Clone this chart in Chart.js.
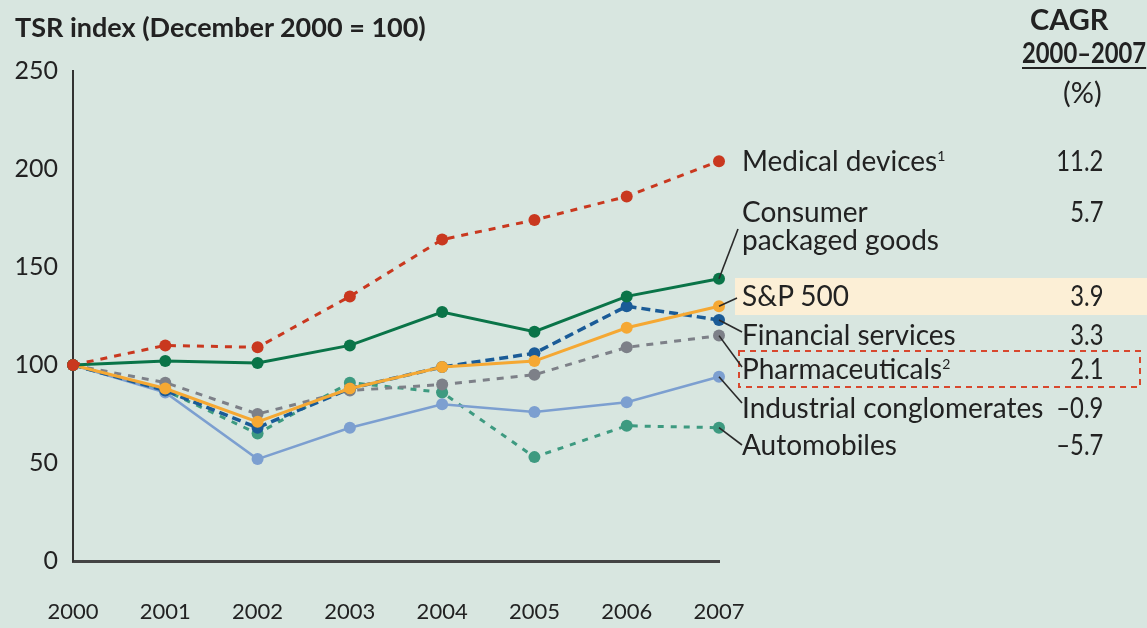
<!DOCTYPE html>
<html>
<head>
<meta charset="utf-8">
<title>TSR index</title>
<script src="https://cdn.jsdelivr.net/npm/chart.js@4.4.0/dist/chart.umd.min.js"></script>
<style>
    body { margin: 0; background: #d8e6e0; }
    #wrap { position: relative; width: 1147px; height: 628px; overflow: hidden;
            font-family: Lato, sans-serif; color: #222; }
    #chart { position: absolute; left: 0; top: 0; }
    .t { position: absolute; white-space: nowrap; font-size: 28px; line-height: 28px; }
    .b { font-weight: bold; }
    .v { position: absolute; right: 44px; white-space: nowrap; font-size: 29px; line-height: 28px;
         transform: scaleX(0.82); transform-origin: right center; }
    sup { font-size: 14px; vertical-align: 10px; line-height: 0; }
</style>
</head>
<body>
<div id="wrap">
    <canvas id="chart" width="1147" height="628"></canvas>
    <div class="t b" style="left:15px;top:13px;font-size:27px;">TSR index (December 2000 = 100)</div>
    <div class="t b" style="left:1030px;top:5px;font-size:29px;">CAGR</div>
    <div class="t b" style="left:1022px;top:38px;font-size:29px;text-decoration:underline;text-decoration-thickness:2px;text-underline-offset:4px;transform:scaleX(0.82);transform-origin:left center;">2000–2007</div>
    <div class="t" style="left:1063px;top:78px;font-size:29px;">(%)</div>
    <div id="labels"></div>
</div>
<script>
var years = ['2000', '2001', '2002', '2003', '2004', '2005', '2006', '2007'];
var yTicks = [0, 50, 100, 150, 200, 250];

var medical = [100, 110, 109, 135, 164, 174, 186, 204];
var consumer = [100, 102, 101, 110, 127, 117, 135, 144];
var sp500 = [100, 88, 71, 88, 99, 102, 119, 130];
var financial = [100, 87, 68, 88, 99, 106, 130, 123];
var pharma = [100, 91, 75, 87, 90, 95, 109, 115];
var industrial = [100, 86, 52, 68, 80, 76, 81, 94];
var autos = [100, 87, 65, 91, 86, 53, 69, 68];

var names = ['Medical devices<sup>1</sup>', 'Consumer<br>packaged goods', 'S&amp;P 500', 'Financial services',
    'Pharmaceuticals<sup>2</sup>', 'Industrial conglomerates', 'Automobiles'];
var cagr = ['11.2', '5.7', '3.9', '3.3', '2.1', '–0.9', '–5.7'];

// layout of the label column (top of each label, leader line end)
var labelTop = [146, 197, 281, 320, 354, 393, 430];
var leaderEnd = [null, [738, 229], [737, 298], [742, 332], [742, 367], [742, 403], [742, 445]];

var labelsDiv = document.getElementById('labels');
names.forEach(function(n, i) {
    var d = document.createElement('div');
    d.className = 't';
    d.style.left = '742px';
    d.style.top = labelTop[i] + 'px';
    d.innerHTML = n;
    labelsDiv.appendChild(d);
    var v = document.createElement('div');
    v.className = 'v';
    v.style.top = labelTop[i] + 'px';
    v.textContent = cagr[i];
    labelsDiv.appendChild(v);
});

function line(label, data, color, dash, width) {
    return {
        label: label,
        data: data,
        borderColor: color,
        backgroundColor: color,
        borderWidth: width || 3,
        borderDash: dash || [],
        pointRadius: 6,
        pointBorderWidth: 0,
        pointBackgroundColor: color,
        tension: 0
    };
}

var decor = {
    id: 'decor',
    beforeDatasetsDraw: function(chart) {
        var ctx = chart.ctx;
        ctx.save();
        ctx.fillStyle = '#fcefd6';
        ctx.fillRect(735, 278, 412, 37);
        ctx.restore();
    },
    afterDatasetsDraw: function(chart) {
        var ctx = chart.ctx;
        ctx.save();
        ctx.strokeStyle = '#d8482e';
        ctx.lineWidth = 2;
        ctx.setLineDash([6, 5]);
        ctx.strokeRect(739, 351, 401, 36);
        ctx.setLineDash([]);
        ctx.strokeStyle = '#2a2a2a';
        ctx.lineWidth = 1.6;
        leaderEnd.forEach(function(e, i) {
            if (!e) return;
            var pts = chart.getDatasetMeta(i).data;
            var p = pts[pts.length - 1];
            ctx.beginPath();
            ctx.moveTo(p.x, p.y);
            ctx.lineTo(e[0], e[1]);
            ctx.stroke();
        });
        ctx.restore();
    }
};

var ctx = document.getElementById('chart').getContext('2d');
new Chart(ctx, {
    type: 'line',
    data: {
        labels: years,
        datasets: [
            line('Medical devices', medical, '#c9381f', [7, 7]),
            line('Consumer packaged goods', consumer, '#0a7448'),
            line('S&P 500', sp500, '#f5a833'),
            line('Financial services', financial, '#1a5b97', [9, 5], 3.5),
            line('Pharmaceuticals', pharma, '#7d8088', [7, 7]),
            line('Industrial conglomerates', industrial, '#7c9fd0', [], 2.5),
            line('Automobiles', autos, '#3d9a80', [6, 7])
        ]
    },
    options: {
        responsive: false,
        animation: false,
        layout: { padding: { left: 0, right: 428, top: 71, bottom: 0 } },
        plugins: { legend: { display: false }, tooltip: { enabled: false } },
        scales: {
            x: {
                grid: { display: false, drawTicks: false },
                border: { color: '#444', width: 3 },
                ticks: { padding: 38, color: '#222', maxRotation: 0,
                    font: { family: 'Lato, sans-serif', size: 22 } },
                afterFit: function(s) { s.height = 67; }
            },
            y: {
                min: 0,
                max: 250,
                grid: { display: false, drawTicks: false },
                border: { color: '#333', width: 2 },
                afterBuildTicks: function(s) { s.ticks = yTicks.map(function(v) { return { value: v }; }); },
                ticks: { padding: 15, color: '#222',
                    font: { family: 'Lato, sans-serif', size: 25 } },
                afterFit: function(s) { s.width = 73; }
            }
        }
    },
    plugins: [decor]
});
</script>
</body>
</html>
